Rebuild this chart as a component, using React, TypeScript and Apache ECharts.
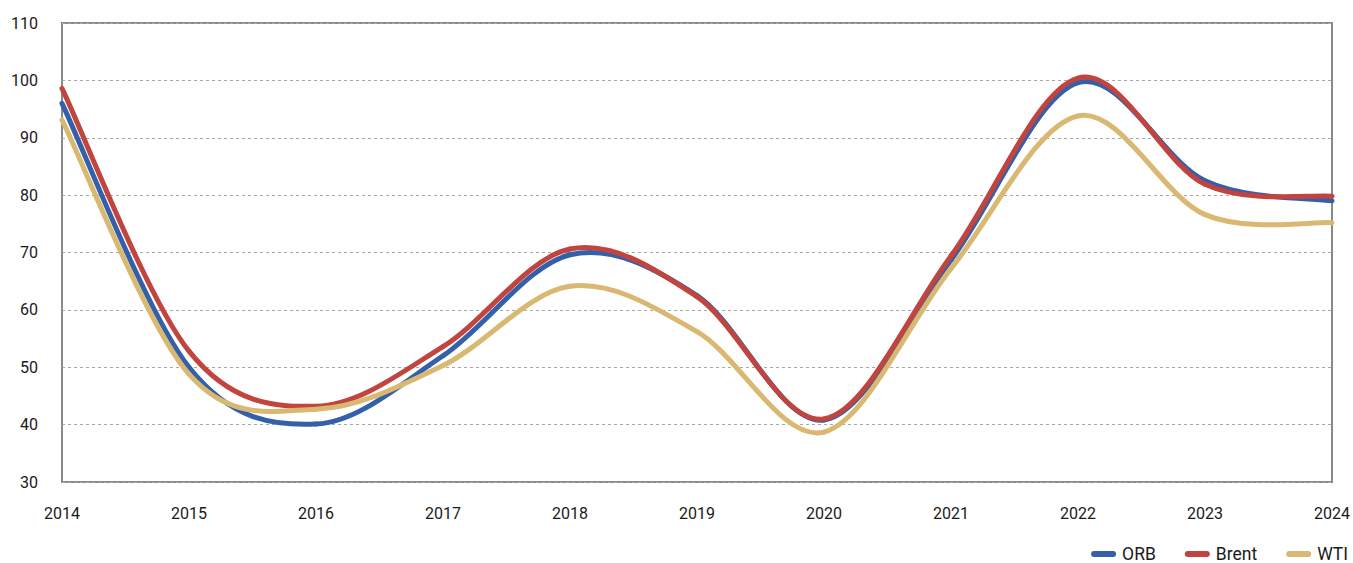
import React, { useEffect, useRef } from "react";
import * as echarts from "echarts";

const years = ["2014", "2015", "2016", "2017", "2018", "2019", "2020", "2021", "2022", "2023", "2024"];
const orb = [96.0, 50.0, 40.1, 52.0, 69.6, 62.5, 40.8, 68.7, 99.6, 82.5, 79.0];
const brent = [98.6, 52.8, 43.2, 53.6, 70.6, 62.3, 41.0, 69.4, 100.4, 81.9, 79.8];
const wti = [93.1, 48.8, 42.7, 50.3, 64.1, 56.2, 38.7, 67.2, 93.8, 76.6, 75.2];

const pill = "path://M3,0 L22,0 A3,3 0 0 1 22,6 L3,6 A3,3 0 0 1 3,0 Z";

function smoothSeries(name: string, values: number[], color: string) {
  return {
    name,
    type: "custom",
    coordinateSystem: "cartesian2d",
    data: values.map((v, i) => [i, v]),
    encode: { x: 0, y: 1 },
    itemStyle: { color },
    renderItem: (params: any, api: any) => {
      const i = params.dataIndex;
      if (i >= values.length - 1) return null;
      const pt = (k: number) => {
        const kk = Math.max(0, Math.min(values.length - 1, k));
        return api.coord([kk, values[kk]]);
      };
      const p0 = pt(i - 1), p1 = pt(i), p2 = pt(i + 1), p3 = pt(i + 2);
      const c1x = p1[0] + (p2[0] - p0[0]) / 6;
      const c1y = p1[1] + (p2[1] - p0[1]) / 6;
      const c2x = p2[0] - (p3[0] - p1[0]) / 6;
      const c2y = p2[1] - (p3[1] - p1[1]) / 6;
      return {
        type: "bezierCurve",
        shape: { x1: p1[0], y1: p1[1], cpx1: c1x, cpy1: c1y, cpx2: c2x, cpy2: c2y, x2: p2[0], y2: p2[1] },
        style: { fill: null, stroke: color, lineWidth: 5, lineCap: "round" },
        z2: 1,
      };
    },
  };
}

export default function App() {
  const ref = useRef<HTMLDivElement>(null);
  useEffect(() => {
    const chart = echarts.init(ref.current!, null, { renderer: "svg" });
    const font = "Roboto, 'DejaVu Sans', sans-serif";
    chart.setOption({
      animation: false,
      backgroundColor: "#fff",
      grid: {
        left: 62,
        right: 21,
        top: 23,
        bottom: 81,
        show: true,
        borderColor: "#8a8a8a",
        borderWidth: 2,
        containLabel: false,
      },
      legend: {
        right: 5,
        top: 545,
        padding: 0,
        icon: pill,
        itemWidth: 27,
        itemHeight: 6,
        itemGap: 29,
        textStyle: { fontFamily: font, fontSize: 17.5, color: "#1a1a1a" },
        data: [
          { name: "ORB", itemStyle: { color: "#3360a9" } },
          { name: "Brent", itemStyle: { color: "#c1443f" } },
          { name: "WTI", itemStyle: { color: "#d9b872" } },
        ],
      },
      xAxis: {
        type: "category",
        data: years,
        boundaryGap: false,
        axisLine: { show: false },
        axisTick: { show: false },
        splitLine: { show: false },
        axisLabel: { fontFamily: font, fontSize: 16, color: "#1a1a1a", margin: 23 },
      },
      yAxis: {
        type: "value",
        min: 30,
        max: 110,
        interval: 10,
        axisLine: { show: false },
        axisTick: { show: false },
        splitLine: { show: true, lineStyle: { color: "#a8a8a8", width: 1, type: [3, 3] } },
        axisLabel: { fontFamily: font, fontSize: 16, color: "#1a1a1a", margin: 24 },
      },
      series: [
        smoothSeries("ORB", orb, "#3360a9"),
        smoothSeries("Brent", brent, "#c1443f"),
        smoothSeries("WTI", wti, "#d9b872"),
      ],
    });
    return () => chart.dispose();
  }, []);
  return (
    <div
      ref={ref}
      style={{ position: "absolute", left: 0, top: 0, width: 1353, height: 563 }}
    />
  );
}
